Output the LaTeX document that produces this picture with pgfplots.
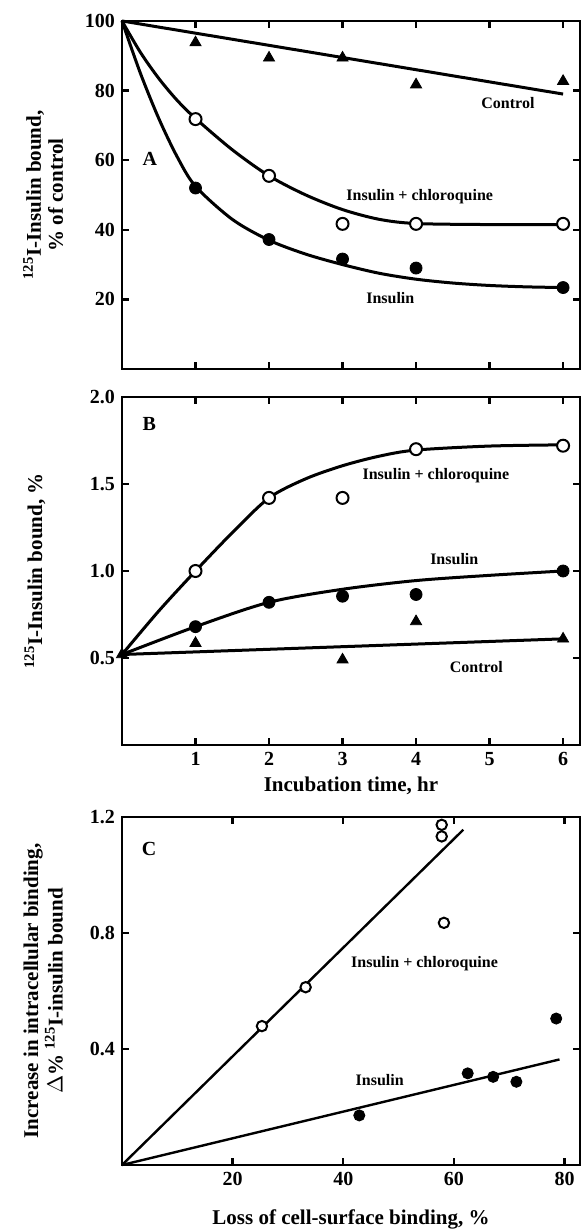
\documentclass[border=0pt]{standalone}
\usepackage{pgfplots}
\pgfplotsset{compat=1.18}
\usepackage{fontspec}
\setmainfont{Liberation Serif}

\pgfplotsset{
  panel/.style={
    scale only axis, width=229pt, height=174pt,
    axis line style={line width=1.4pt},
    every tick/.style={line width=1.2pt, black},
    major tick length=3.5pt,
    tick align=inside,
    tick label style={font=\bfseries\fontsize{10}{12}\selectfont},
    /pgf/number format/assume math mode=true,
    every axis label/.append style={font=\bfseries\fontsize{10.5}{11}\selectfont},
    every axis y label/.style={at={(axis description cs:-0.175,0.5)}, anchor=center, rotate=90, align=center},
    clip=false,
  },
  curve/.style={black, line width=1.5pt, smooth, mark=none},
  fillc/.style={black, only marks, mark=*, mark size=3pt},
  openc/.style={black, only marks, mark=*, mark size=3pt, mark options={fill=white, line width=1pt}},
  tri/.style={black, only marks, mark=triangle*, mark size=3.2pt},
}
\newcommand{\ann}{\bfseries\fontsize{8}{9}\selectfont}

\begin{document}
\begin{tikzpicture}
\useasboundingbox (0,0) rectangle (291.5pt,615pt);

% ---------- Panel A ----------
\begin{axis}[panel, at={(61pt,430.5pt)}, anchor=south west,
  xmin=0, xmax=6.23, ymin=0, ymax=100,
  xtick={1,2,3,4,5,6}, xticklabels={},
  ytick={20,40,60,80,100},
  ylabel={\textsuperscript{125}I-Insulin bound,\\ \% of control},
  every axis y label/.append style={at={(axis description cs:-0.172,0.5)}},
]
\addplot[curve] coordinates {(0,100) (6,79)};
\addplot[curve] coordinates {(0,100) (0.25,91) (0.5,83.5) (0.75,77.2) (1,72) (1.5,63) (2,55.5) (2.5,50) (3,45.8) (3.5,43) (4,41.8) (5,41.5) (6,41.5)};
\addplot[curve] coordinates {(0,100) (0.25,85) (0.5,72) (0.75,61) (1,52.5) (1.5,43) (2,37) (2.5,33) (3,30) (3.5,27.5) (4,25.8) (4.5,24.7) (5,24) (5.5,23.6) (6,23.4)};
\addplot[tri] coordinates {(1,93.8) (2,89.4) (3,89.4) (4,81.7) (6,82.7)};
\addplot[openc] coordinates {(1,71.8) (2,55.5) (3,41.7) (4,41.7) (6,41.7)};
\addplot[fillc] coordinates {(1,52) (2,37.2) (3,31.6) (4,29) (6,23.4)};
\node[font=\bfseries\fontsize{10}{12}\selectfont] at (axis cs:0.38,60.5) {A};
\node[font=\ann] at (axis cs:5.25,76.5) {Control};
\node[font=\ann] at (axis cs:4.05,49.5) {Insulin + chloroquine};
\node[font=\ann] at (axis cs:3.65,20.5) {Insulin};
\end{axis}

% ---------- Panel B ----------
\begin{axis}[panel, at={(61pt,242.5pt)}, anchor=south west,
  xmin=0, xmax=6.23, ymin=0, ymax=2.0,
  xtick={1,2,3,4,5,6},
  ytick={0.5,1.0,1.5,2.0},
  yticklabels={0.5,1.0,1.5,2.0},
  xlabel={Incubation time, hr},
  xlabel style={yshift=1pt},
  ylabel={\textsuperscript{125}I-Insulin bound, \%},
  every axis y label/.append style={at={(axis description cs:-0.19,0.5)}},
]
\addplot[curve] coordinates {(0,0.52) (6,0.61)};
\addplot[curve] coordinates {(0,0.52) (0.5,0.77) (1,1.0) (1.5,1.22) (2,1.42) (2.5,1.53) (3,1.605) (3.5,1.66) (4,1.695) (5,1.718) (6,1.725)};
\addplot[curve] coordinates {(0,0.52) (1,0.68) (2,0.82) (3,0.895) (4,0.945) (5,0.975) (6,1.0)};
\addplot[tri] coordinates {(0,0.52) (1,0.585) (3,0.49) (4,0.71) (6,0.61)};
\addplot[openc] coordinates {(1,1.0) (2,1.42) (3,1.42) (4,1.70) (6,1.72)};
\addplot[fillc] coordinates {(1,0.68) (2,0.82) (3,0.855) (4,0.865) (6,1.0)};
\node[font=\bfseries\fontsize{10}{12}\selectfont] at (axis cs:0.37,1.846) {B};
\node[font=\ann] at (axis cs:4.27,1.55) {Insulin + chloroquine};
\node[font=\ann] at (axis cs:4.52,1.07) {Insulin};
\node[font=\ann] at (axis cs:4.82,0.45) {Control};
\end{axis}

% ---------- Panel C ----------
\begin{axis}[panel, at={(61pt,32.5pt)}, anchor=south west,
  xmin=0, xmax=82.8, ymin=0, ymax=1.2,
  xtick={20,40,60,80},
  ytick={0.4,0.8,1.2},
  yticklabels={0.4,0.8,1.2},
  xlabel={Loss of cell-surface binding, \%},
  xlabel style={yshift=-5pt},
  ylabel={Increase in intracellular binding,\\ $\Delta$\% \textsuperscript{125}I-insulin bound},
  every axis y label/.append style={at={(axis description cs:-0.172,0.5)}},
]
\addplot[black, line width=1.2pt] coordinates {(0,0) (61.7,1.156)};
\addplot[black, line width=1.2pt] coordinates {(0,0) (79.1,0.364)};
\addplot[openc, mark size=2.6pt] coordinates {(25.3,0.479) (33.2,0.613) (57.8,1.173) (57.8,1.133) (58.2,0.835)};
\addplot[fillc, mark size=2.8pt] coordinates {(42.9,0.171) (62.5,0.316) (67.1,0.304) (71.3,0.287) (78.5,0.505)};
\node[font=\bfseries\fontsize{10}{12}\selectfont] at (axis cs:4.9,1.09) {C};
\node[font=\ann] at (axis cs:54.7,0.695) {Insulin + chloroquine};
\node[font=\ann] at (axis cs:46.6,0.294) {Insulin};
\end{axis}
\end{tikzpicture}
\end{document}
